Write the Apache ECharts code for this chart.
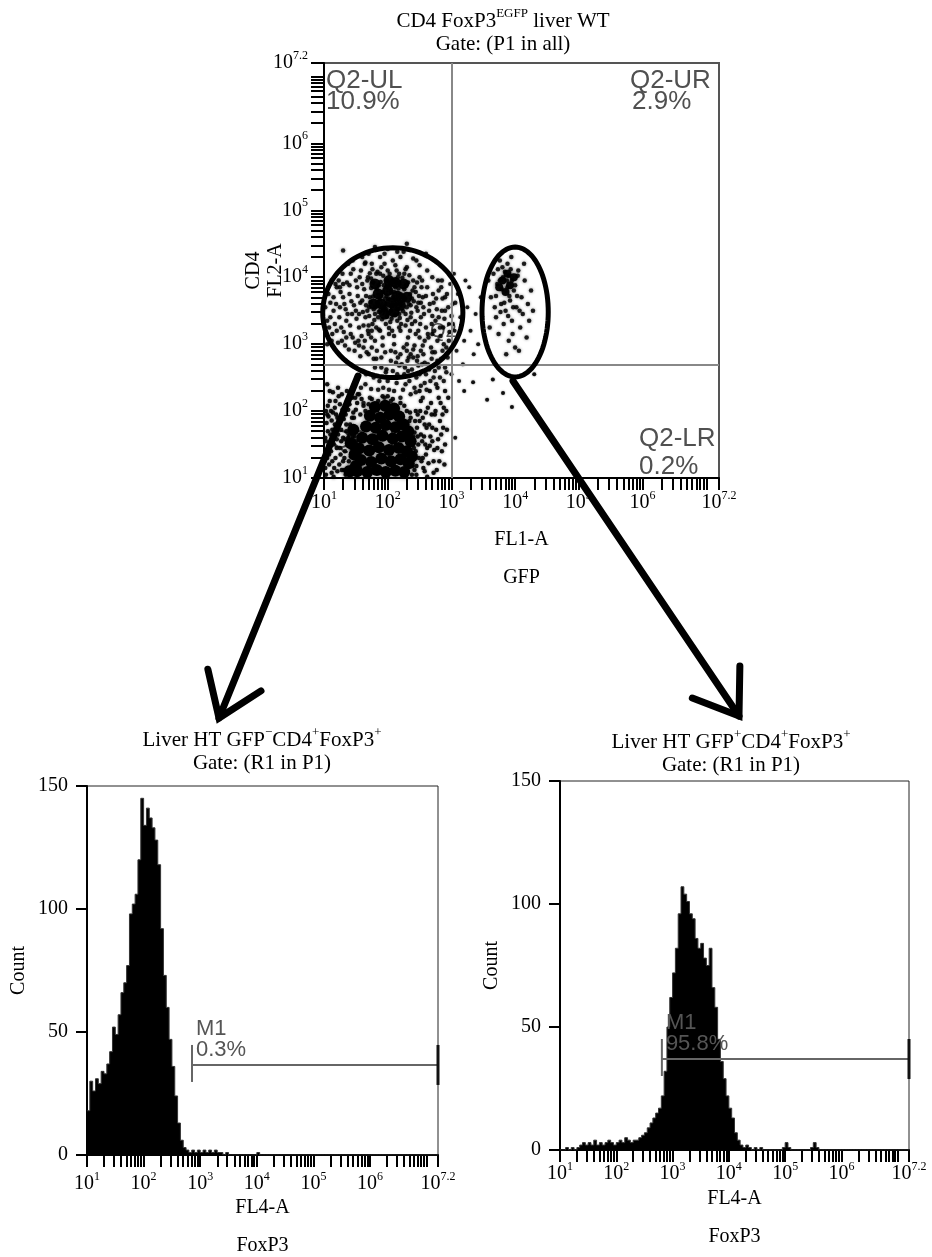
<!DOCTYPE html>
<html><head><meta charset="utf-8">
<script src="https://cdn.jsdelivr.net/npm/echarts@6/dist/echarts.min.js"></script>
<style>html,body{margin:0;padding:0;background:#fff}#c{width:932px;height:1257px}</style>
</head><body><div id="c"></div>
<script>
const SERIF = "'Liberation Serif','DejaVu Serif',serif";
const SANS = "'Liberation Sans','DejaVu Sans',sans-serif";

// ---- axis tick labels (log10 decades) ----
const decadeLabels = [1, 2, 3, 4, 5, 6, 7.2];
const countLabels = [0, 50, 100, 150];

// ---- top dot plot: [log10 FL1-A (GFP), log10 FL2-A (CD4)] ----
const llCore = [[1.52,1.10],[1.68,1.09],[1.83,1.12],[1.97,1.09],[2.12,1.11],[2.26,1.09],[1.58,1.27],[1.74,1.24],[1.9,1.29],[2.05,1.25],[2.2,1.28],[2.33,1.22],[1.55,1.44],[1.71,1.41],[1.86,1.46],[2.02,1.42],[2.17,1.45],[2.3,1.4],[1.6,1.6],[1.76,1.58],[1.92,1.63],[2.08,1.59],[2.22,1.62],[1.66,1.77],[1.81,1.75],[1.97,1.79],[2.12,1.76],[2.25,1.8],[1.72,1.93],[1.88,1.9],[2.03,1.95],[2.18,1.92],[1.8,2.06],[1.96,2.08],[2.1,2.04],[2.36,1.55],[2.38,1.32],[1.48,1.35],[1.5,1.18],[2.32,1.7],[1.4,1.1],[1.42,1.52],[1.46,1.72]];
const llDots = [[1.03,1.05],[1.08,1.2],[1.04,1.38],[1.1,1.52],[1.06,1.7],[1.12,1.86],[1.03,2.0],[1.09,2.15],[1.15,1.02],[1.18,1.3],[1.2,1.45],[1.16,1.62],[1.22,1.78],[1.19,1.95],[1.25,2.1],[1.28,1.12],[1.3,1.25],[1.33,1.4],[1.27,1.55],[1.35,1.7],[1.31,1.88],[1.38,2.02],[1.4,1.15],[1.42,1.32],[1.37,1.5],[1.45,1.62],[1.41,1.8],[1.46,1.98],[1.44,2.2],[1.14,2.28],[1.05,2.4],[1.22,2.35],[1.36,2.3],[1.02,1.6],[1.24,1.2],[1.12,1.08],[1.34,1.05],[1.47,1.08],[1.07,1.92],[1.17,2.05],[1.48,1.2],[1.5,1.55],[1.47,1.9],[1.52,2.12],[2.38,1.25],[2.4,1.62],[2.35,1.98],[2.42,1.12],[1.62,2.08],[2.26,2.08],[2.0,2.22],[1.75,2.18],[2.38,1.05],[2.45,1.18],[2.4,1.35],[2.48,1.5],[2.42,1.68],[2.5,1.85],[2.44,2.0],[2.52,2.15],[2.58,1.1],[2.55,1.3],[2.62,1.45],[2.57,1.62],[2.65,1.8],[2.6,1.98],[2.68,2.12],[2.72,1.25],[2.7,1.55],[2.76,1.72],[2.74,1.95],[2.8,2.2],[2.85,1.4],[2.82,1.85],[2.88,2.05],[2.66,2.3],[2.78,2.35],[2.9,2.3],[2.62,1.02],[2.36,1.9],[2.39,1.5],[2.5,2.3],
  [1.02,1.15],[1.05,1.3],[1.07,1.48],[1.04,1.82],[1.06,2.08],[1.09,2.3],[1.11,1.4],[1.13,1.72],[1.14,1.98],[1.16,1.15],[1.2,1.58],[1.21,1.9],[1.23,2.22],[1.26,1.35],[1.27,1.72],[1.29,2.02],[1.32,1.12],[1.33,1.58],[1.34,1.95],[1.36,2.15],[1.39,1.25],[1.4,1.65],[1.43,1.45],[1.44,1.9],[1.46,1.3],[1.49,1.72],[1.5,2.02],[1.53,2.25],[1.57,1.95],[1.59,2.18],[1.65,2.0],[1.7,2.1],[1.85,2.15],[1.92,2.22],[2.08,2.18],[2.2,2.12],[2.3,2.0],[2.34,1.85],[2.37,1.72],[2.38,1.55],[2.36,1.38],[2.39,1.18],[2.44,1.4],[2.46,1.75],[2.47,1.95],[2.52,1.65],[2.53,1.25],[2.55,1.9],[2.59,1.5],[2.61,1.75],[2.64,1.22],[2.67,1.62],[2.69,1.95],[2.73,1.42],[2.77,1.12],[2.79,1.58],[2.83,2.12],[2.87,1.75],[2.9,1.5],[2.92,2.0],
  [1.01,1.25],[1.03,1.55],[1.05,1.95],[1.08,1.35],[1.1,1.65],[1.11,2.0],[1.13,1.25],[1.15,1.5],[1.17,1.8],[1.18,2.15],[1.21,1.1],[1.22,1.65],[1.25,1.45],[1.26,1.85],[1.28,2.25],[1.3,1.6],[1.32,1.3],[1.35,1.8],[1.37,1.15],[1.38,1.6],[1.4,2.1],[1.42,1.72],[1.43,1.05],[1.45,1.45],[1.48,1.62],[1.49,2.2],[2.41,1.45],[2.43,1.85],[2.45,1.05],[2.47,1.62],[2.49,1.3],[2.51,2.0],[2.54,1.55],[2.56,1.15],[2.58,1.8],[2.6,1.35],[2.63,2.05],[2.66,1.48],[2.7,1.75],[2.72,1.08],[2.75,2.0],[2.78,1.45],[2.81,1.25],[2.84,1.65],[2.86,1.95],[2.89,1.2],[2.93,1.72],[2.95,2.2]];
const bridgeDots = [[1.55,2.25],[1.65,2.4],[1.6,2.6],[1.72,2.2],[1.78,2.5],[1.85,2.32],[1.9,2.65],[1.95,2.2],[2.0,2.45],[2.05,2.75],[2.1,2.3],[2.15,2.55],[2.2,2.2],[2.22,2.7],[2.28,2.4],[2.32,2.6],[2.36,2.25],[2.4,2.8],[2.45,2.5],[2.48,2.68],[2.52,2.38],[2.56,2.85],[2.6,2.55],[2.63,2.7],[2.67,2.45],[2.7,2.88],[2.74,2.6],[2.78,2.75],[2.82,2.5],[2.86,2.9],[2.9,2.65],[2.94,2.8],[1.82,2.78],[1.7,2.85],[2.12,2.88],[2.3,2.9],[2.42,2.35],[2.55,2.2],[2.05,2.15],[1.62,2.12],
  [1.58,2.35],[1.66,2.55],[1.74,2.33],[1.8,2.65],[1.87,2.45],[1.93,2.35],[1.97,2.58],[2.02,2.32],[2.08,2.6],[2.14,2.42],[2.18,2.68],[2.24,2.32],[2.26,2.55],[2.31,2.75],[2.34,2.45],[2.38,2.62],[2.44,2.28],[2.47,2.82],[2.5,2.55],[2.54,2.7],[2.58,2.42],[2.61,2.32],[2.65,2.62],[2.69,2.78],[2.72,2.5],[2.76,2.4],[2.8,2.65],[2.84,2.78],[2.88,2.45],[2.92,2.58]];
const ulCore = [[1.85,3.75],[2.0,3.8],[2.15,3.72],[1.9,3.6],[2.05,3.62],[2.2,3.58],[1.95,3.45],[2.1,3.48],[2.25,3.9],[1.8,3.9],[2.02,3.95],[2.3,3.7],[1.78,3.6],[2.12,3.92]];
const ulDots = [[1.1,3.4],[1.15,3.7],[1.2,3.2],[1.25,3.55],[1.3,3.9],[1.28,3.05],[1.35,3.35],[1.4,3.75],[1.42,4.05],[1.45,3.1],[1.5,3.5],[1.52,3.85],[1.55,3.25],[1.58,4.1],[1.6,3.65],[1.62,2.95],[1.65,3.4],[1.68,3.95],[1.7,3.15],[1.72,3.7],[1.75,4.2],[1.76,3.3],[1.78,3.52],[1.8,3.05],[1.82,4.05],[1.85,3.4],[1.88,3.2],[1.9,4.15],[1.92,2.98],[1.94,3.88],[1.97,3.3],[2.0,4.1],[2.02,3.15],[2.05,3.5],[2.08,4.25],[2.1,3.0],[2.12,3.85],[2.15,3.35],[2.18,4.05],[2.2,3.2],[2.22,3.65],[2.25,2.95],[2.28,3.45],[2.3,4.15],[2.32,3.1],[2.35,3.75],[2.38,3.3],[2.4,3.95],[2.42,2.98],[2.45,3.55],[2.48,3.2],[2.5,4.0],[2.52,3.4],[2.55,3.7],[2.58,3.05],[2.6,3.25],[2.62,3.85],[2.65,3.5],[2.68,2.95],[2.7,3.15],[2.72,3.62],[2.75,3.35],[2.78,3.05],[2.8,3.8],[2.82,3.25],[2.85,3.5],[2.88,3.0],[2.9,3.7],[1.05,3.0],[1.12,3.95],[1.38,4.2],[1.48,2.9],[1.6,4.3],[1.95,4.35],[2.2,4.3],[2.45,4.25],[1.2,3.85],[1.32,3.6],[1.02,3.55],[1.44,3.45],[1.66,3.58],[1.84,3.62],[2.26,3.82],[2.36,3.58],[2.14,3.92],[1.98,3.72],[2.06,3.38],[1.74,3.84],[1.88,3.5],[2.28,3.28],[2.44,3.78],[2.56,3.55],[1.3,4.4],[1.8,4.45],[2.3,4.5],[2.6,4.35],
  [1.71,3.42],[1.73,3.63],[1.74,3.98],[1.77,3.71],[1.79,3.36],[1.81,3.55],[1.83,3.82],[1.84,4.08],[1.86,3.48],[1.87,3.68],[1.89,3.93],[1.91,3.37],[1.92,3.78],[1.93,4.02],[1.96,3.56],[1.98,3.86],[1.99,3.41],[2.01,3.68],[2.03,4.05],[2.04,3.33],[2.06,3.77],[2.07,3.58],[2.09,3.94],[2.11,3.44],[2.13,3.66],[2.14,4.1],[2.16,3.52],[2.17,3.83],[2.19,3.39],[2.21,3.74],[2.23,3.99],[2.24,3.49],[2.27,3.68],[2.29,3.88],[2.31,3.36],[2.33,3.6],[2.34,4.03],[2.37,3.47],[2.39,3.8],[2.41,3.64],[2.43,3.34],[2.46,3.92],[2.47,3.5],[2.49,3.72],[1.76,4.12],[1.86,3.22],[2.02,3.24],[2.18,3.25],[2.35,3.2],[1.95,4.2],[2.12,4.18],[2.28,4.12],[1.68,3.5],[1.7,3.28],[2.52,3.62],[2.53,3.85],[1.9,3.72],[2.08,3.7],[2.2,3.6],[1.98,3.52],
  [1.08,3.25],[1.1,3.62],[1.13,3.15],[1.15,3.5],[1.18,3.9],[1.22,3.02],[1.24,3.4],[1.26,3.78],[1.29,4.05],[1.31,3.18],[1.34,3.52],[1.36,3.92],[1.39,2.92],[1.41,3.28],[1.43,3.64],[1.46,4.12],[1.49,3.02],[1.51,3.38],[1.53,3.72],[1.56,4.0],[1.57,2.82],[1.59,3.12],[1.61,3.48],[1.63,3.82],[1.64,4.2],[1.67,2.88],[1.69,3.2],[1.72,4.06],[1.78,2.78],[1.83,2.9],[1.9,2.8],[1.98,2.62],[2.05,2.9],[2.13,2.72],[2.2,2.85],[2.27,2.65],[2.33,2.8],[2.4,2.92],[2.46,2.75],[2.52,2.9],[2.58,2.72],[2.64,3.1],[2.69,3.3],[2.71,3.75],[2.74,2.88],[2.77,3.52],[2.79,3.95],[2.83,3.12],[2.86,3.68],[2.89,3.38],[2.92,2.95],[2.95,3.55],[2.97,3.18],[3.0,3.42],[3.06,3.62],[2.62,4.1],[2.4,4.28],[2.15,4.38],[1.88,4.3],[1.65,4.22],
  [1.05,3.35],[1.07,3.75],[1.12,3.05],[1.17,3.3],[1.19,3.6],[1.23,3.95],[1.27,3.25],[1.3,3.7],[1.33,2.98],[1.37,3.45],[1.4,3.88],[1.42,3.15],[1.47,3.58],[1.5,3.95],[1.54,3.05],[1.55,3.45],[1.57,3.62],[1.6,3.9],[1.62,3.28],[1.64,3.05],[1.66,3.72],[1.69,4.0],[1.71,3.55],[1.75,3.2],[1.77,3.92],[1.8,3.45],[1.82,3.25],[1.86,3.88],[1.88,4.05],[1.93,3.52],[1.96,3.68],[1.99,3.95],[2.01,3.46],[2.04,3.88],[2.07,3.2],[2.1,3.78],[2.12,3.58],[2.16,4.0],[2.18,3.45],[2.21,3.3],[2.24,3.72],[2.26,4.05],[2.3,3.55],[2.32,3.92],[2.36,3.4],[2.38,3.68],[2.42,3.85],[2.44,3.15],[2.48,3.62],[2.51,3.3],[2.54,3.95],[2.57,3.45],[2.6,3.72],[2.63,3.15],[2.66,3.6],[2.7,3.42],[2.73,3.2],[2.76,3.68],[2.8,3.4],[2.84,3.85],[2.87,3.25],[2.9,3.5],[2.93,3.75],[2.96,3.05],[3.02,3.3],[1.74,3.1],[1.92,3.1],[2.1,3.12],[2.3,3.0],[2.5,3.1],[2.55,2.98],[2.36,2.85],[2.16,2.8],[1.96,2.88],[1.75,2.95],[1.55,2.98],[1.35,3.1],[1.25,3.85],[1.45,4.25],[1.7,4.35],[2.0,4.42],[2.25,4.38],[2.5,4.18],[2.7,4.0],[2.85,3.95]];
const midDots = [[2.98,3.9],[3.02,3.6],[3.05,3.2],[3.08,2.9],[3.1,3.75],[3.14,3.4],[3.18,2.7],[3.2,3.05],[3.25,3.55],[3.28,3.85],[3.3,3.2],[3.35,2.85],[3.38,3.45],[3.42,3.0],[3.46,3.7],[3.0,2.55],[3.12,2.45],[3.22,3.95],[2.96,3.3],[3.04,4.05]];
const urCore = [[3.8,3.95],[3.92,3.88],[3.85,3.78],[3.98,4.0],[3.75,3.85],[3.88,4.05]];
const urDots = [[3.62,3.7],[3.66,4.05],[3.7,3.4],[3.72,3.9],[3.74,3.15],[3.78,3.6],[3.8,4.15],[3.82,3.3],[3.85,3.5],[3.88,4.2],[3.9,3.05],[3.92,3.65],[3.95,3.35],[3.98,3.8],[4.0,2.95],[4.02,3.55],[4.05,4.1],[4.08,3.25],[4.1,3.7],[4.12,3.45],[4.15,3.95],[4.18,3.1],[4.2,3.6],[4.22,3.35],[4.25,3.8],[3.68,3.55],[3.76,4.25],[3.86,2.85],[3.96,3.15],[4.06,2.9],[4.14,4.2],[3.6,3.25],[3.58,3.95],[3.94,4.3],[4.28,3.5],
  [3.7,3.72],[3.73,4.12],[3.77,3.48],[3.79,3.82],[3.83,3.62],[3.84,4.08],[3.87,3.95],[3.89,3.42],[3.91,3.72],[3.93,4.12],[3.97,3.55],[4.0,3.88],[4.03,3.72],[4.04,4.02],[4.07,3.5],[3.81,4.0],[3.88,3.85],[3.95,3.95],[3.76,3.95],[3.9,4.02]];
const lrDots = [[3.34,2.43],[3.65,2.47],[3.56,2.17],[3.95,2.06],[3.06,1.6],[3.81,2.27],[3.2,2.3],[4.3,2.55]];
// gates: [centre x, centre y, radius x, radius y] in decades
const gates = [[2.08,3.47,1.1,0.97],[4.0,3.48,0.52,0.97]];
const quadrantX = 3.0, quadrantY = 2.69;

// ---- FL4-A (FoxP3) histograms, 0.05-decade bins starting at 10^1 ----
const BIN = 0.05, HIST_MIN = 1.0;
const histGfpNeg = [18,30,26,31,29,34,33,37,42,52,49,57,66,70,77,98,102,106,120,145,134,141,137,133,128,118,92,73,60,47,36,24,13,6,3,2,1,2,1,2,1,2,1,2,1,2,1,1,0,1,0,0,0,0,0,0,0,0,0,0,1,0,0,0,0,0,0,0,0,0,0,0,0,0,0,0,0,0,0,0,0,0,0,0,0,0,0,0,0,0,0,0,0,0,0,0,0,0,0,0,0,0,0,0,0,0,0,0,0,0,0,0,0,0,0,0,0,0,0,0,0,0,0,0];
const histGfpPos = [0,0,1,0,1,0,1,2,3,2,3,2,4,2,3,2,3,4,3,2,3,4,3,5,4,3,4,4,5,6,7,9,11,13,15,17,22,32,50,62,72,82,96,107,104,101,96,94,86,82,84,78,75,82,66,58,45,36,29,22,17,13,7,4,2,1,2,1,0,1,0,1,0,0,0,0,0,0,0,1,3,1,0,0,0,0,0,0,0,1,3,1,0,0,0,0,0,0,0,0,0,0,0,0,0,0,0,0,0,0,0,0,0,0,0,0,0,0,0,0,0,0,0,0];
const markerGfpNeg = {x: 2.855, y: 36.6, name: 'M1', pct: '0.3%'};
const markerGfpPos = {x: 2.81, y: 37, name: 'M1', pct: '95.8%'};

// ---------------------------------------------------------------
function logTicks() {
  const t = [];
  for (let d = 1; d <= 7; d++) for (let k = 1; k <= 9; k++) {
    const v = d + Math.log10(k);
    if (v <= 7.2 + 1e-9) t.push(+v.toFixed(4));
  }
  t.push(7.2);
  return t;
}
const TICKS = logTicks();
function decadeFmt(v) {
  const e = Math.abs(v - 7.2) < 1e-6 ? '7.2' : String(Math.round(v));
  return '{b|10}{s|' + e + '}';
}
const decRich = {
  b: {fontFamily: SERIF, fontSize: 20, color: '#000', lineHeight: 26},
  s: {fontFamily: SERIF, fontSize: 12, color: '#000', lineHeight: 14, verticalAlign: 'top'}
};
const nameStyle = {fontFamily: SERIF, fontSize: 20, color: '#000', lineHeight: 38};
function decadeAxis(gridIndex, margin, extra) {
  return Object.assign({
    type: 'value', gridIndex, min: 1, max: 7.2,
    axisLine: {show: true, onZero: false, lineStyle: {color: '#000', width: 2}},
    axisTick: {show: true, customValues: TICKS, length: 12, lineStyle: {color: '#000', width: 2}},
    axisLabel: {customValues: decadeLabels, formatter: decadeFmt, rich: decRich, margin},
    splitLine: {show: false},
    nameMoveOverlap: false
  }, extra);
}
function countAxis(gridIndex) {
  return {
    type: 'value', gridIndex, min: 0, max: 150, interval: 50,
    axisLine: {show: true, onZero: false, lineStyle: {color: '#000', width: 2}},
    axisTick: {show: true, length: 11, lineStyle: {color: '#000', width: 2}},
    axisLabel: {fontFamily: SERIF, fontSize: 20, color: '#000', margin: 19, customValues: countLabels},
    splitLine: {show: false},
    name: 'Count', nameLocation: 'middle', nameGap: 58, nameRotate: 90, nameMoveOverlap: false,
    nameTextStyle: {fontFamily: SERIF, fontSize: 20, color: '#000'}
  };
}
function dots(data, size, opacity, blur) {
  return {type: 'scatter', xAxisIndex: 0, yAxisIndex: 0, data, symbolSize: size,
    itemStyle: {color: '#000', opacity: opacity, shadowBlur: blur, shadowColor: 'rgba(0,0,0,0.55)'},
    silent: true, z: 3, animation: false};
}
function histData(counts) {
  const d = counts.map((c, i) => [+(HIST_MIN + i * BIN).toFixed(2), c]);
  d.push([7.2, 0]);
  return d;
}
function histSeries(idx, counts) {
  return {type: 'line', xAxisIndex: idx, yAxisIndex: idx, data: histData(counts), step: 'end',
    symbol: 'none', lineStyle: {color: '#333', width: 1}, areaStyle: {color: '#000', opacity: 1},
    silent: true, z: 2, animation: false};
}
function markerSeries(idx, m) {
  return {type: 'custom', xAxisIndex: idx, yAxisIndex: idx, data: [[m.x, m.y]], z: 5, silent: true, clip: false, animation: false,
    renderItem: (p, api) => {
      const a = api.coord([api.value(0), api.value(1)]);
      const b = api.coord([7.2, api.value(1)]);
      const txt = {fill: '#555', fontFamily: SANS, fontSize: 22, align: 'left', verticalAlign: 'middle'};
      return {type: 'group', children: [
        {type: 'line', shape: {x1: a[0], y1: a[1], x2: b[0], y2: b[1]}, style: {stroke: '#666', lineWidth: 2}},
        {type: 'line', shape: {x1: a[0], y1: a[1] - 20, x2: a[0], y2: a[1] + 17}, style: {stroke: '#666', lineWidth: 2}},
        {type: 'line', shape: {x1: b[0], y1: b[1] - 20, x2: b[0], y2: b[1] + 20}, style: {stroke: '#111', lineWidth: 3}},
        {type: 'text', x: a[0] + 4, y: a[1] - 36, style: Object.assign({text: m.name}, txt)},
        {type: 'text', x: a[0] + 4, y: a[1] - 15, style: Object.assign({text: m.pct}, txt)}
      ]};
    }};
}
function arrow(x1, y1, x2, y2) {
  const dx = x2 - x1, dy = y2 - y1, L = Math.hypot(dx, dy);
  const ux = -dx / L, uy = -dy / L, ang = 35 * Math.PI / 180, len = 50;
  const r = t => [x2 + len * (ux * Math.cos(t) - uy * Math.sin(t)), y2 + len * (ux * Math.sin(t) + uy * Math.cos(t))];
  return [
    {type: 'line', z: 50, shape: {x1, y1, x2, y2}, style: {stroke: '#000', lineWidth: 7, lineCap: 'round'}},
    {type: 'polyline', z: 50, shape: {points: [r(ang), [x2, y2], r(-ang)]}, style: {stroke: '#000', lineWidth: 7, lineCap: 'round', fill: null}}
  ];
}
const titleRich = {
  n: {fontFamily: SERIF, fontSize: 21, fill: '#000', lineHeight: 28},
  s: {fontFamily: SERIF, fontSize: 13, fill: '#000', lineHeight: 14, verticalAlign: 'top'}
};
function ttl(x, y, text) {
  return {type: 'text', x, y, z: 20, style: {text, align: 'center', verticalAlign: 'middle', rich: titleRich}};
}
function qlab(x, y, text, z, size) {
  return {type: 'text', x, y, z: z, style: {text, fill: '#505050', fontFamily: SANS, fontSize: size || 26, align: 'left', verticalAlign: 'middle'}};
}

const chart = echarts.init(document.getElementById('c'), null, {renderer: 'canvas'});
const gridBase = {show: true, backgroundColor: 'transparent', containLabel: false, outerBoundsMode: 'none'};
const option = {
  backgroundColor: '#fff',
  animation: false,
  grid: [
    Object.assign({left: 324, top: 63, width: 395, height: 415, borderColor: '#555', borderWidth: 2}, gridBase),
    Object.assign({left: 87, top: 786, width: 351, height: 369, borderColor: '#222', borderWidth: 1}, gridBase),
    Object.assign({left: 560, top: 781, width: 349, height: 369, borderColor: '#222', borderWidth: 1}, gridBase)
  ],
  xAxis: [
    decadeAxis(0, 12, {name: 'FL1-A\nGFP', nameLocation: 'middle', nameGap: 43, nameTextStyle: nameStyle}),
    decadeAxis(1, 16, {name: 'FL4-A\nFoxP3', nameLocation: 'middle', nameGap: 34, nameTextStyle: nameStyle}),
    decadeAxis(2, 11, {name: 'FL4-A\nFoxP3', nameLocation: 'middle', nameGap: 30, nameTextStyle: nameStyle})
  ],
  yAxis: [
    decadeAxis(0, 16, {name: 'CD4\nFL2-A', nameLocation: 'middle', nameGap: 37, nameRotate: 90,
      nameTextStyle: {fontFamily: SERIF, fontSize: 20, color: '#000', lineHeight: 22},
      axisTick: {show: true, customValues: TICKS, length: 13, lineStyle: {color: '#000', width: 2}},
      axisLabel: {customValues: decadeLabels, formatter: decadeFmt, rich: decRich, margin: 16, align: 'right'}}),
    countAxis(1),
    countAxis(2)
  ],
  series: [
    Object.assign(dots(lrDots, 4, 0.9, 2), {markLine: {silent: true, symbol: 'none', label: {show: false},
      lineStyle: {color: '#888', width: 2, type: 'solid'}, data: [{xAxis: quadrantX}, {yAxis: quadrantY}]}}),
    dots(llCore, 12, 1, 5),
    dots(llDots, 4.5, 0.9, 3),
    dots(bridgeDots, 4.5, 0.85, 3),
    dots(ulCore, 11, 0.95, 5),
    dots(ulDots, 4.5, 0.85, 3),
    dots(midDots, 4, 0.85, 2),
    dots(urCore, 8, 0.95, 4),
    dots(urDots, 4.5, 0.85, 3),
    {type: 'custom', xAxisIndex: 0, yAxisIndex: 0, data: gates, clip: false, z: 6, silent: true, animation: false,
      renderItem: (p, api) => {
        const c = api.coord([api.value(0), api.value(1)]);
        const s = api.size([api.value(2), api.value(3)]);
        const pts = [];
        for (let i = 0; i < 96; i++) {
          const a = i / 96 * Math.PI * 2;
          pts.push([c[0] + s[0] * Math.cos(a), c[1] + s[1] * Math.sin(a)]);
        }
        return {type: 'polygon', shape: {points: pts}, style: {fill: null, stroke: '#000', lineWidth: 5}};
      }},
    histSeries(1, histGfpNeg),
    histSeries(2, histGfpPos),
    markerSeries(1, markerGfpNeg),
    markerSeries(2, markerGfpPos)
  ],
  graphic: [
    ttl(503, 21, '{n|CD4 FoxP3}{s|EGFP}{n| liver WT}'),
    ttl(503, 44, '{n|Gate: (P1 in all)}'),
    ttl(262, 740, '{n|Liver HT GFP}{s|\u2212}{n|CD4}{s|+}{n|FoxP3}{s|+}'),
    ttl(262, 763, '{n|Gate: (R1 in P1)}'),
    ttl(731, 742, '{n|Liver HT GFP}{s|+}{n|CD4}{s|+}{n|FoxP3}{s|+}'),
    ttl(731, 765, '{n|Gate: (R1 in P1)}'),
    qlab(326, 81, 'Q2-UL', 8), qlab(326, 102, '10.9%', 8),
    qlab(630, 81, 'Q2-UR', 8), qlab(632, 102, '2.9%', 8),
    qlab(639, 439, 'Q2-LR', 8), qlab(639, 467, '0.2%', 8),
    qlab(331, 441, 'Q2-LL', 1),
    qlab(430, 331, 'Q2', 1, 20)
  ].concat(arrow(358, 376, 219, 718), arrow(513, 381, 739, 716))
};
chart.setOption(option);
</script></body></html>
